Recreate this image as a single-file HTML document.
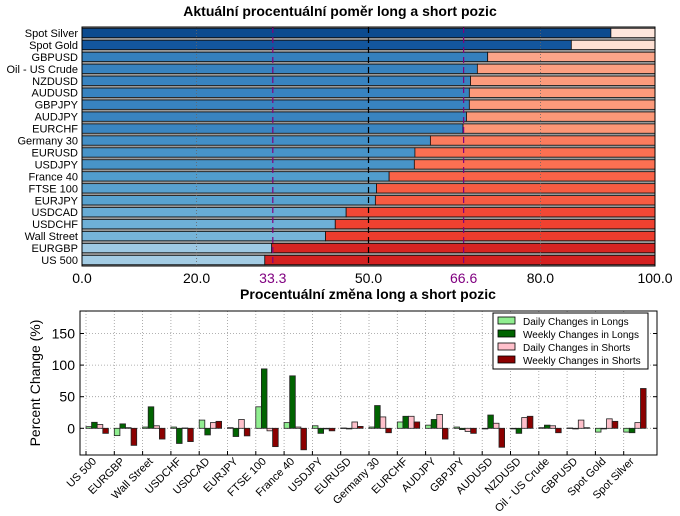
<!DOCTYPE html>
<html><head><meta charset="utf-8"><style>
body{margin:0;background:#fff;font-family:"Liberation Sans",sans-serif}
svg{display:block}
</style></head><body>
<svg id="c" width="680" height="516" xmlns="http://www.w3.org/2000/svg"></svg>
<script>
const topCats=["Spot Silver","Spot Gold","GBPUSD","Oil - US Crude","NZDUSD","AUDUSD","GBPJPY","AUDJPY","EURCHF","Germany 30","EURUSD","USDJPY","France 40","FTSE 100","EURJPY","USDCAD","USDCHF","Wall Street","EURGBP","US 500"];
const longPct=[92.3,85.4,70.8,69.0,67.8,67.6,67.6,67.1,66.5,60.8,58.1,58.0,53.6,51.4,51.2,46.1,44.2,42.5,33.1,31.9];
const topTicks=[0,20,33.3,50,66.6,80,100];
const botCats=["US 500","EURGBP","Wall Street","USDCHF","USDCAD","EURJPY","FTSE 100","France 40","USDJPY","EURUSD","Germany 30","EURCHF","AUDJPY","GBPJPY","AUDUSD","NZDUSD","Oil - US Crude","GBPUSD","Spot Gold","Spot Silver"];
const dailyLongs=[2.6,-11.6,2,2,13,1,34,9,4,0.5,2,10,5,2,-1,-1,1,0.5,-6,-6];
const weeklyLongs=[9.5,7,34,-24,-10.5,-13,94,83,-8,-1,36,19,14,-2,21,-8,5,-1,-1,-7];
const dailyShorts=[6,1,4,0.5,9,14,-4,2,-1,10,18,19,22,-5,8,17,4,13,15,9];
const weeklyShorts=[-8,-27,-17,-21,11,-12,-29,-34,-4,3,-7,10,-17,-8,-30,19,-7,1,11,63];
const botTicks=[0,50,100,150];

const S=document.getElementById('c');const NS="http://www.w3.org/2000/svg";
function mk(t,a,p){const e=document.createElementNS(NS,t);for(const k in a)e.setAttribute(k,a[k]);(p||S).appendChild(e);return e;}
function lerpC(stops,v){if(v<=stops[0][0])return stops[0][1];for(let i=1;i<stops.length;i++){if(v<=stops[i][0]){const[a,ca]=stops[i-1],[b,cb]=stops[i];const t=(v-a)/(b-a);const p=h=>[1,3,5].map(j=>parseInt(h.substr(j,2),16));const A=p(ca),B=p(cb);return"rgb("+A.map((x,j)=>Math.round(x+(B[j]-x)*t)).join(",")+")";}}return stops[stops.length-1][1];}
const blues=[[30,"#abd0e6"],[45,"#6baed6"],[55,"#4d9acb"],[66,"#3a85c1"],[71,"#3580bd"],[85,"#13579f"],[93,"#0b4a8e"]];
const reds=[[7,"#fee7dd"],[15,"#fee0d2"],[29,"#fca68a"],[33,"#fc9878"],[42,"#fb7052"],[48,"#f85e44"],[56,"#ef402f"],[68,"#d42121"]];

// title
let t=mk('text',{x:340,y:16,'text-anchor':'middle','font-size':14,'font-weight':'bold',fill:'#000'});t.textContent="Aktuální procentuální poměr long a short pozic";

// top chart
const L=82,R=655,T=27,B=266;const xs=v=>L+(R-L)*v/100;const rowH=(B-T)/topCats.length;
const g1=mk('g',{});
mk('rect',{x:L,y:T,width:R-L,height:B-T,fill:'#999'},g1);
topCats.forEach((c,i)=>{const y=T+i*rowH+1.3,h=rowH-2.6,v=longPct[i];
 const r1=mk('rect',{x:xs(0),y:y,width:xs(v)-xs(0),height:h,fill:lerpC(blues,v),stroke:'#111','stroke-width':0.8},g1);
 
 const r2=mk('rect',{x:xs(v),y:y,width:xs(100)-xs(v),height:h,fill:lerpC(reds,100-v),stroke:'#111','stroke-width':0.8},g1);
 
 const lb=mk('text',{x:L-4,y:y+h/2+4,'text-anchor':'end','font-size':11,fill:'#000'});lb.textContent=c;
 
});
[20,80].forEach(v=>mk('line',{x1:xs(v),x2:xs(v),y1:T,y2:B,stroke:'#666','stroke-dasharray':'1,2','stroke-width':0.8},g1));
mk('line',{x1:xs(50),x2:xs(50),y1:T,y2:B,stroke:'#000','stroke-dasharray':'6,4','stroke-width':1.2},g1);
[33.3,66.6].forEach(v=>mk('line',{x1:xs(v),x2:xs(v),y1:T,y2:B,stroke:'#800080','stroke-dasharray':'6,4','stroke-width':1.2},g1));
mk('rect',{x:L,y:T,width:R-L,height:B-T,fill:'none',stroke:'#000','stroke-width':1},g1);
topTicks.forEach(v=>{const p=(v===33.3||v===66.6);const tx=mk('text',{x:xs(v),y:283,'text-anchor':'middle','font-size':14,fill:p?'#800080':'#000'});tx.textContent=v.toFixed(1);
 });

// bottom chart
t=mk('text',{x:368,y:299,'text-anchor':'middle','font-size':14,'font-weight':'bold',fill:'#000'});t.textContent="Procentuální změna long a short pozic";

const BL=80,BR=657,BT=311,BB=455;const unit=28.3;const bx=i=>86+unit*i;const y0=428.3,k=0.632;const by=v=>y0-v*k;
const g2=mk('g',{});
botCats.forEach((c,i)=>mk('line',{x1:bx(i),x2:bx(i),y1:BT,y2:BB,stroke:'#999','stroke-dasharray':'1,2','stroke-width':0.8},g2));
botTicks.forEach(v=>{mk('line',{x1:BL,x2:BR,y1:by(v),y2:by(v),stroke:'#999','stroke-dasharray':'1,2','stroke-width':0.8},g2);
 mk('line',{x1:BL,x2:BL+4,y1:by(v),y2:by(v),stroke:'#000'},g2);mk('line',{x1:BR-4,x2:BR,y1:by(v),y2:by(v),stroke:'#000'},g2);
 const tx=mk('text',{x:BL-5,y:by(v)+5,'text-anchor':'end','font-size':14,fill:'#000'});tx.textContent=v;
 });
const series=[[dailyLongs,'#90ee90','daily-long-bar'],[weeklyLongs,'#006400','weekly-long-bar'],[dailyShorts,'#ffc0cb','daily-short-bar'],[weeklyShorts,'#8b0000','weekly-short-bar']];
const bw=5.6;
botCats.forEach((c,i)=>{series.forEach((s,j)=>{const v=s[0][i];const x=bx(i)+j*bw;let ya=by(Math.max(v,0)),yb=by(Math.min(v,0));
 if(yb>BB)yb=BB;
 const r=mk('rect',{x:x,y:ya,width:bw,height:Math.max(yb-ya,0.5),fill:s[1],stroke:'#222','stroke-width':0.8},g2);
 });
 const cx=bx(i)+11;const lb=mk('text',{x:cx,y:462,'text-anchor':'end','font-size':11,fill:'#000',transform:`rotate(-45 ${cx} 462)`});lb.textContent=c;
 
 mk('line',{x1:bx(i),x2:bx(i),y1:BB-4,y2:BB,stroke:'#000'},g2);
});
mk('rect',{x:BL,y:BT,width:BR-BL,height:BB-BT,fill:'none',stroke:'#000','stroke-width':1},g2);
t=mk('text',{x:40,y:383,'text-anchor':'middle','font-size':14,fill:'#000',transform:'rotate(-90 40 383)'});t.textContent="Percent Change (%)";

// legend
const lg=mk('g',{});
mk('rect',{x:493,y:313,width:155,height:56,fill:'#fff',stroke:'#000','stroke-width':1},lg);
const names=["Daily Changes in Longs","Weekly Changes in Longs","Daily Changes in Shorts","Weekly Changes in Shorts"];
names.forEach((n,j)=>{const y=321+j*13;const e=mk('g',{},lg);
 mk('rect',{x:498,y:y-4,width:17,height:7,fill:series[j][1],stroke:'#000','stroke-width':0.8},e);
 const tx=mk('text',{x:523,y:y+4,'font-size':10,fill:'#000'},e);tx.textContent=n;});
</script>
</body></html>
